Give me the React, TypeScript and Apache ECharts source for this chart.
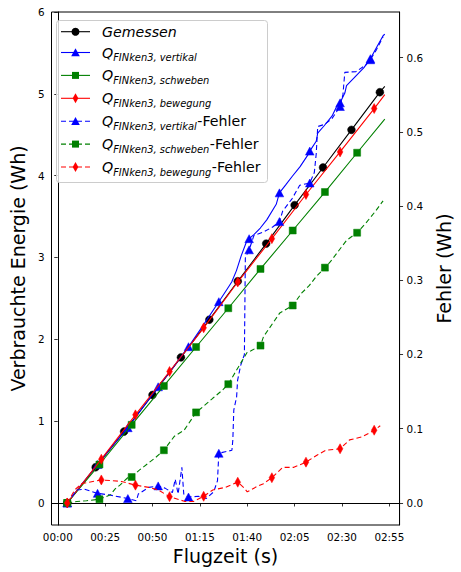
import { useEffect, useRef } from "react";
import * as echarts from "echarts";

// ---------- data ----------
const xTicks = [0, 25, 50, 75, 100, 125, 150, 175];
const yLeftTicks = [0, 1, 2, 3, 4, 5, 6];
const yRightTicks = [0, 0.1, 0.2, 0.3, 0.4, 0.5, 0.6];

// Gemessen (left axis)
const gemessen: [number, number][] = [
  [5, 0], [20, 0.437], [35, 0.873], [50, 1.32], [65, 1.78], [80, 2.24], [95, 2.71],
  [110, 3.17], [125, 3.64], [140, 4.1], [155, 4.56], [170, 5.02], [172.6, 5.09],
];
const gemessenMarkT = [5, 20, 35, 50, 65, 80, 95, 110, 125, 140, 155, 170];

// Q vertikal (left axis)
const vertikal: [number, number][] = [
  [5, 0], [13, 0.24], [21, 0.47], [29, 0.7], [37, 0.92], [45, 1.17], [53, 1.42], [61, 1.66],
  [69, 1.91], [77, 2.18], [85, 2.46], [89, 2.6], [91.8, 2.7], [94.3, 2.84], [96.8, 3.02],
  [99.4, 3.18], [101, 3.23], [103.5, 3.28], [106.9, 3.36], [110.3, 3.46], [115.3, 3.65],
  [117, 3.79], [120.4, 3.89], [123.7, 3.99], [127.9, 4.11], [132.2, 4.26], [133, 4.3],
  [136.4, 4.42], [137.2, 4.52], [140.6, 4.61], [144.8, 4.73], [147.3, 4.85], [149, 4.89],
  [151.5, 5.01], [152.4, 5.1], [157.4, 5.22], [161.6, 5.32], [165, 5.43], [168.3, 5.57],
  [171.7, 5.71], [172.6, 5.73],
];
const vertikalMarkT = [5, 21, 37, 53, 69, 85, 101, 117, 133, 149, 165];

// Q schweben (left axis)
const schweben: [number, number][] = [
  [5, 0], [22, 0.47], [39, 0.955], [56, 1.43], [73, 1.906], [90, 2.38], [107, 2.86],
  [124, 3.33], [141, 3.8], [158, 4.28], [172.6, 4.69],
];
const schwebenMarkT = [5, 22, 39, 56, 73, 90, 107, 124, 141, 158];

// Q bewegung (left axis)
const bewegung: [number, number][] = [
  [5, 0], [23, 0.535], [41, 1.077], [59, 1.607], [77, 2.14], [95, 2.7], [113, 3.23],
  [131, 3.77], [149, 4.29], [167, 4.82], [172.6, 4.99],
];
const bewegungMarkT = [5, 23, 41, 59, 77, 95, 113, 131, 149, 167];

// Fehler (right axis)
const vertikalErr: [number, number][] = [
  [5, 0], [10.1, 0.0175], [14.1, 0.0185], [21, 0.013], [26.8, 0.011], [37, 0.006],
  [41.5, 0.003], [42.5, 0.012], [48, 0.021], [53, 0.023], [56.6, 0.02], [60.5, 0.014],
  [62, 0.032], [63.5, 0.012], [65.5, 0.048], [66.5, 0.012], [69, 0.008], [74.2, 0.009],
  [78.3, 0.006], [82.3, 0.015], [84.3, 0.03], [85, 0.067], [88.4, 0.069], [91.9, 0.071],
  [92.4, 0.085], [92.9, 0.125], [94.4, 0.143], [94.9, 0.165], [96.5, 0.185], [98.5, 0.2],
  [99, 0.33], [101, 0.341], [103.5, 0.36], [108.6, 0.365], [113.6, 0.372], [117, 0.379],
  [118.7, 0.393], [123.7, 0.41], [127.7, 0.428], [133, 0.431], [135.4, 0.445],
  [136.4, 0.47], [137.2, 0.507], [140.9, 0.51], [144.8, 0.518], [149, 0.534],
  [150.5, 0.55], [151.5, 0.58], [157.4, 0.581], [162.6, 0.59], [165, 0.597],
  [168.3, 0.611], [171.7, 0.628],
];
const schwebenErr: [number, number][] = [
  [5, 0], [10.1, 0.002], [15.2, 0.003], [22, 0.005], [27.8, 0.011], [30.3, 0.019],
  [32.8, 0.024], [36.9, 0.034], [39, 0.035], [42.9, 0.044], [48, 0.054], [51.5, 0.061],
  [56, 0.071], [61.6, 0.09], [66.7, 0.098], [73, 0.122], [76.8, 0.13], [81.8, 0.141],
  [86.9, 0.152], [90, 0.16], [96, 0.186], [100, 0.203], [102, 0.205], [107, 0.212],
  [108.6, 0.224], [117.2, 0.256], [124, 0.266], [128.8, 0.283], [132.8, 0.293],
  [136.4, 0.305], [141, 0.317], [143.9, 0.325], [152.5, 0.354], [158, 0.364],
  [162.6, 0.377], [167.7, 0.393], [171.7, 0.407],
];
const bewegungErr: [number, number][] = [
  [5, 0], [9.1, 0.018], [12.6, 0.026], [18.5, 0.029], [23, 0.031], [28.6, 0.03],
  [33.6, 0.029], [41, 0.024], [48, 0.021], [53, 0.0175], [59, 0.0085], [67.2, 0.002],
  [71.6, 0.002], [77, 0.009], [81.8, 0.0175], [88.4, 0.021], [95, 0.028], [98.5, 0.02],
  [100, 0.015], [105, 0.022], [108.6, 0.026], [113, 0.034], [118.7, 0.048],
  [124.6, 0.048], [131, 0.055], [137.2, 0.065], [141.4, 0.071], [149, 0.073],
  [154, 0.085], [160.6, 0.089], [167, 0.098], [170.2, 0.104],
];

const FONT = '"DejaVu Sans", "Liberation Sans", sans-serif';

function fmtTime(v: number) {
  const m = Math.floor(v / 60);
  const s = Math.round(v - m * 60);
  return String(m).padStart(2, "0") + ":" + String(s).padStart(2, "0");
}

const MARK = {
  circle: { symbol: "circle", size: 7.8 },
  triangle: { symbol: "triangle", size: [8.6, 8] },
  rect: { symbol: "rect", size: 7 },
  diamond: { symbol: "diamond", size: [5.6, 10] },
};

function mkSeries(
  pts: [number, number][],
  marks: number[],
  color: string,
  mk: { symbol: string; size: any },
  axis: number,
  dashed: boolean,
  z: number
) {
  return {
    type: "line",
    yAxisIndex: axis,
    data: pts.map(([t, v]) =>
      marks.includes(t) ? { value: [t, v] } : { value: [t, v], symbol: "none" }
    ),
    symbol: mk.symbol,
    symbolSize: mk.size,
    showSymbol: true,
    showAllSymbol: true,
    lineStyle: { color, width: 1.1, type: dashed ? [5, 3] : "solid" },
    itemStyle: { color, borderColor: color, borderWidth: 0.5 },
    z,
    silent: true,
    animation: false,
  };
}

export default function App() {
  const ref = useRef<HTMLDivElement>(null);
  useEffect(() => {
    if (!ref.current) return;
    const chart = echarts.init(ref.current, null, { renderer: "svg" });

    const canvas = document.createElement("canvas");
    const ctx = canvas.getContext("2d")!;
    const measure = (txt: string, font: string) => {
      ctx.font = font;
      return ctx.measureText(txt).width;
    };

    const mainSize = 14.2;
    const subSize = 9.9;
    const fItal = `italic ${mainSize}px "DejaVu Sans"`;
    const fSub = `italic ${subSize}px "DejaVu Sans"`;
    const fReg = `${mainSize}px "DejaVu Sans"`;

    const rows = [
      { color: "#000000", dashed: false, mk: "circle", sub: "", suffix: "", plain: "Gemessen" },
      { color: "#0000ff", dashed: false, mk: "triangle", sub: "FINken3, vertikal", suffix: "" },
      { color: "#008000", dashed: false, mk: "rect", sub: "FINken3, schweben", suffix: "" },
      { color: "#ff0000", dashed: false, mk: "diamond", sub: "FINken3, bewegung", suffix: "" },
      { color: "#0000ff", dashed: true, mk: "triangle", sub: "FINken3, vertikal", suffix: "-Fehler" },
      { color: "#008000", dashed: true, mk: "rect", sub: "FINken3, schweben", suffix: "-Fehler" },
      { color: "#ff0000", dashed: true, mk: "diamond", sub: "FINken3, bewegung", suffix: "-Fehler" },
    ];
    const rowY = [31.7, 52.5, 75.4, 98.3, 121.2, 144.1, 167.0];

    const legendEls: any[] = [
      {
        type: "rect",
        shape: { x: 56.5, y: 20.5, width: 211, height: 162, r: 3 },
        style: { fill: "rgba(255,255,255,0.8)", stroke: "#cccccc", lineWidth: 1 },
        z: 100,
      },
    ];
    rows.forEach((r, i) => {
      const cy = rowY[i];
      const lx0 = 61, lx1 = 90, cx = 75.5;
      legendEls.push({
        type: "line",
        shape: { x1: lx0, y1: cy, x2: lx1, y2: cy },
        style: { stroke: r.color, lineWidth: 1.1, lineDash: r.dashed ? [5, 3] : null },
        z: 101,
      });
      if (r.mk === "circle") {
        legendEls.push({ type: "circle", shape: { cx, cy, r: 4 }, style: { fill: r.color }, z: 102 });
      } else if (r.mk === "triangle") {
        legendEls.push({
          type: "polygon",
          shape: { points: [[cx, cy - 4.3], [cx - 4.3, cy + 3.8], [cx + 4.3, cy + 3.8]] },
          style: { fill: r.color },
          z: 102,
        });
      } else if (r.mk === "rect") {
        legendEls.push({
          type: "rect",
          shape: { x: cx - 3.5, y: cy - 3.5, width: 7, height: 7 },
          style: { fill: r.color },
          z: 102,
        });
      } else {
        legendEls.push({
          type: "polygon",
          shape: { points: [[cx, cy - 5], [cx + 2.8, cy], [cx, cy + 5], [cx - 2.8, cy]] },
          style: { fill: r.color },
          z: 102,
        });
      }
      const tx = 102;
      if (r.plain) {
        legendEls.push({
          type: "text",
          x: tx,
          y: cy,
          style: { text: r.plain, font: fItal, fill: "#000", align: "left", verticalAlign: "middle" },
          z: 102,
        });
      } else {
        const wQ = measure("Q", fItal);
        const wS = measure(r.sub, fSub);
        legendEls.push({
          type: "text",
          x: tx,
          y: cy,
          style: { text: "Q", font: fItal, fill: "#000", align: "left", verticalAlign: "middle" },
          z: 102,
        });
        legendEls.push({
          type: "text",
          x: tx + wQ,
          y: cy + 5.3,
          style: { text: r.sub, font: fSub, fill: "#000", align: "left", verticalAlign: "middle" },
          z: 102,
        });
        if (r.suffix) {
          legendEls.push({
            type: "text",
            x: tx + wQ + wS + 0.5,
            y: cy,
            style: { text: r.suffix, font: fReg, fill: "#000", align: "left", verticalAlign: "middle" },
            z: 102,
          });
        }
      }
    });

    const axisCommon = {
      type: "value",
      splitLine: { show: false },
      axisLine: { show: true, lineStyle: { color: "#000", width: 1 } },
      axisTick: { show: true, length: 3.5, lineStyle: { color: "#000", width: 0.8 } },
      nameTextStyle: { fontFamily: FONT, fontSize: 19, color: "#000" },
    };

    chart.setOption({
      animation: false,
      grid: {
        left: 48,
        top: 12,
        width: 365,
        height: 513,
        show: true,
        borderColor: "#000",
        borderWidth: 1,
        containLabel: false,
      },
      xAxis: {
        ...axisCommon,
        min: -3.3,
        max: 180.4,
        name: "Flugzeit (s)",
        nameLocation: "middle",
        nameGap: 21,
        axisTick: { ...axisCommon.axisTick, customValues: xTicks },
        axisLabel: {
          customValues: xTicks,
          formatter: (v: number) => fmtTime(v),
          fontFamily: FONT,
          fontSize: 10.4,
          color: "#000",
          margin: 7,
        },
      },
      yAxis: [
        {
          ...axisCommon,
          position: "left",
          min: -0.269,
          max: 6,
          name: "Verbrauchte Energie (Wh)",
          nameLocation: "middle",
          nameGap: 21,
          axisTick: { ...axisCommon.axisTick, customValues: yLeftTicks },
          axisLabel: {
            customValues: yLeftTicks,
            formatter: (v: number) => String(Math.round(v)),
            fontFamily: FONT,
            fontSize: 10.4,
            color: "#000",
            margin: 7,
          },
        },
        {
          ...axisCommon,
          position: "right",
          min: -0.02966,
          max: 0.6613,
          name: "Fehler (Wh)",
          nameLocation: "middle",
          nameGap: 26,
          axisTick: { ...axisCommon.axisTick, customValues: yRightTicks },
          axisLabel: {
            customValues: yRightTicks,
            formatter: (v: number) => v.toFixed(1),
            fontFamily: FONT,
            fontSize: 10.4,
            color: "#000",
            margin: 7,
          },
        },
      ],
      series: [
        mkSeries(gemessen, gemessenMarkT, "#000000", MARK.circle, 0, false, 2),
        mkSeries(vertikal, vertikalMarkT, "#0000ff", MARK.triangle, 0, false, 3),
        mkSeries(schweben, schwebenMarkT, "#008000", MARK.rect, 0, false, 4),
        mkSeries(bewegung, bewegungMarkT, "#ff0000", MARK.diamond, 0, false, 5),
        mkSeries(vertikalErr, vertikalMarkT, "#0000ff", MARK.triangle, 1, true, 6),
        mkSeries(schwebenErr, schwebenMarkT, "#008000", MARK.rect, 1, true, 7),
        mkSeries(bewegungErr, bewegungMarkT, "#ff0000", MARK.diamond, 1, true, 8),
      ],
      graphic: { elements: legendEls },
    });

    return () => chart.dispose();
  }, []);

  return (
    <div
      ref={ref}
      style={{ position: "absolute", left: 0, top: 0, width: 461, height: 572, background: "#fff" }}
    />
  );
}
